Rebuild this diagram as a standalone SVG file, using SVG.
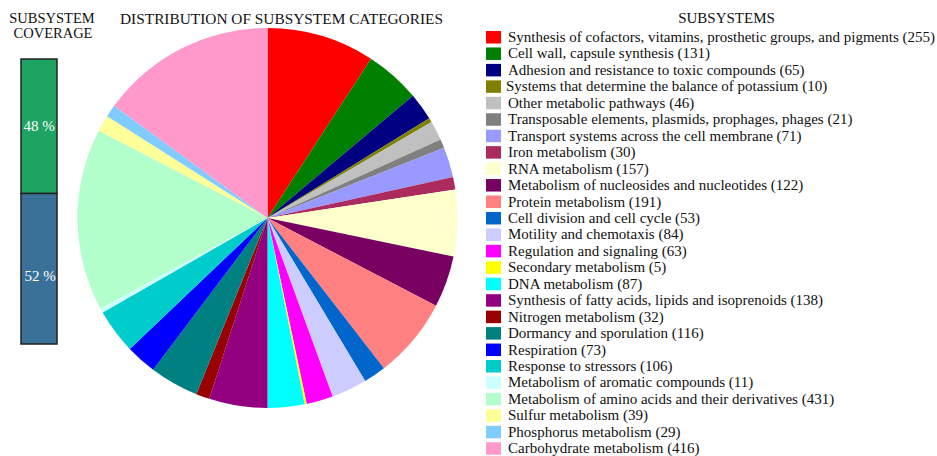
<svg xmlns="http://www.w3.org/2000/svg" width="937" height="456" viewBox="0 0 937 456">
<style>
text{font-family:"Liberation Serif","Times New Roman",serif;fill:#111;}
.t{font-size:15px;}
.ct{font-size:14.5px;text-anchor:middle;}
.lg{font-size:15px;}
.pc{font-size:15px;fill:#fff;text-anchor:middle;}
.bar{stroke:#222;stroke-width:1.5;}
</style>
<rect width="937" height="456" fill="#fff"/>
<g id="coverage">
<text class="ct" x="52" y="23">SUBSYSTEM</text>
<text class="ct" x="53" y="38">COVERAGE</text>
<rect class="bar" x="21" y="59" width="36" height="134.5" fill="#1ea462"/>
<rect class="bar" x="21" y="193.5" width="36" height="150.5" fill="#3a7199"/>
<text class="pc" x="39" y="131">48 %</text>
<text class="pc" x="40" y="281">52 %</text>
</g>
<g id="pie">
<text class="t" x="281.5" y="24" text-anchor="middle" textLength="323" lengthAdjust="spacingAndGlyphs">DISTRIBUTION OF SUBSYSTEM CATEGORIES</text>
<path fill="#ff0000" d="M267.5 218L267.5 28A190 190 0 0 1 370.97 58.65Z"/>
<path fill="#008000" d="M267.5 218L370.97 58.65A190 190 0 0 1 412.94 95.74Z"/>
<path fill="#000080" d="M267.5 218L412.94 95.74A190 190 0 0 1 429.26 118.33Z"/>
<path fill="#808000" d="M267.5 218L429.26 118.33A190 190 0 0 1 431.47 122.01Z"/>
<path fill="#c0c0c0" d="M267.5 218L431.47 122.01A190 190 0 0 1 440.54 139.53Z"/>
<path fill="#808080" d="M267.5 218L440.54 139.53A190 190 0 0 1 444.07 147.82Z"/>
<path fill="#9999ff" d="M267.5 218L444.07 147.82A190 190 0 0 1 453.01 176.91Z"/>
<path fill="#ac2b5f" d="M267.5 218L453.01 176.91A190 190 0 0 1 455.37 189.57Z"/>
<path fill="#ffffcc" d="M267.5 218L455.37 189.57A190 190 0 0 1 453.55 256.57Z"/>
<path fill="#770060" d="M267.5 218L453.55 256.57A190 190 0 0 1 436.04 305.72Z"/>
<path fill="#ff8080" d="M267.5 218L436.04 305.72A190 190 0 0 1 383.92 368.16Z"/>
<path fill="#0066cc" d="M267.5 218L383.92 368.16A190 190 0 0 1 365.15 380.99Z"/>
<path fill="#ccccff" d="M267.5 218L365.15 380.99A190 190 0 0 1 332.66 396.47Z"/>
<path fill="#ff00ff" d="M267.5 218L332.66 396.47A190 190 0 0 1 306.70 403.91Z"/>
<path fill="#ffff00" d="M267.5 218L306.70 403.91A190 190 0 0 1 304.59 404.35Z"/>
<path fill="#00ffff" d="M267.5 218L304.59 404.35A190 190 0 0 1 267.5 408Z"/>
<path fill="#930080" d="M267.5 218L267.5 408A190 190 0 0 1 209.24 398.85Z"/>
<path fill="#990000" d="M267.5 218L209.24 398.85A190 190 0 0 1 196.33 394.17Z"/>
<path fill="#008080" d="M267.5 218L196.33 394.17A190 190 0 0 1 153.13 369.72Z"/>
<path fill="#0000ff" d="M267.5 218L153.13 369.72A190 190 0 0 1 129.78 348.89Z"/>
<path fill="#00cccc" d="M267.5 218L129.78 348.89A190 190 0 0 1 102.67 312.51Z"/>
<path fill="#ccffff" d="M267.5 218L102.67 312.51A190 190 0 0 1 100.37 308.38Z"/>
<path fill="#b3ffcc" d="M267.5 218L100.37 308.38A190 190 0 0 1 98.77 130.65Z"/>
<path fill="#ffff99" d="M267.5 218L98.77 130.65A190 190 0 0 1 107.11 116.15Z"/>
<path fill="#80ccff" d="M267.5 218L107.11 116.15A190 190 0 0 1 114.11 105.87Z"/>
<path fill="#ff99cc" d="M267.5 218L114.11 105.87A190 190 0 0 1 267.5 28Z"/>
</g>
<g id="legend">
<text class="t" x="726.5" y="23" text-anchor="middle">SUBSYSTEMS</text>
<rect x="486" y="31" width="15" height="12.5" fill="#ff0000"/><text class="lg" x="508" y="42">Synthesis of cofactors, vitamins, prosthetic groups, and pigments (255)</text>
<rect x="486" y="47.45" width="15" height="12.5" fill="#008000"/><text class="lg" x="508" y="58.45">Cell wall, capsule synthesis (131)</text>
<rect x="486" y="63.9" width="15" height="12.5" fill="#000080"/><text class="lg" x="508" y="74.9">Adhesion and resistance to toxic compounds (65)</text>
<rect x="486" y="80.35" width="15" height="12.5" fill="#808000"/><text class="lg" x="506" y="91.35">Systems that determine the balance of potassium (10)</text>
<rect x="486" y="96.8" width="15" height="12.5" fill="#c0c0c0"/><text class="lg" x="508" y="107.8">Other metabolic pathways (46)</text>
<rect x="486" y="113.25" width="15" height="12.5" fill="#808080"/><text class="lg" x="508" y="124.25">Transposable elements, plasmids, prophages, phages (21)</text>
<rect x="486" y="129.7" width="15" height="12.5" fill="#9999ff"/><text class="lg" x="508" y="140.7">Transport systems across the cell membrane (71)</text>
<rect x="486" y="146.15" width="15" height="12.5" fill="#ac2b5f"/><text class="lg" x="508" y="157.15">Iron metabolism (30)</text>
<rect x="486" y="162.6" width="15" height="12.5" fill="#ffffcc"/><text class="lg" x="508" y="173.6">RNA metabolism (157)</text>
<rect x="486" y="179.05" width="15" height="12.5" fill="#770060"/><text class="lg" x="508" y="190.05">Metabolism of nucleosides and nucleotides (122)</text>
<rect x="486" y="195.5" width="15" height="12.5" fill="#ff8080"/><text class="lg" x="508" y="206.5">Protein metabolism (191)</text>
<rect x="486" y="211.95" width="15" height="12.5" fill="#0066cc"/><text class="lg" x="508" y="222.95">Cell division and cell cycle (53)</text>
<rect x="486" y="228.4" width="15" height="12.5" fill="#ccccff"/><text class="lg" x="508" y="239.4">Motility and chemotaxis (84)</text>
<rect x="486" y="244.85" width="15" height="12.5" fill="#ff00ff"/><text class="lg" x="508" y="255.85">Regulation and signaling (63)</text>
<rect x="486" y="261.3" width="15" height="12.5" fill="#ffff00"/><text class="lg" x="508" y="272.3">Secondary metabolism (5)</text>
<rect x="486" y="277.75" width="15" height="12.5" fill="#00ffff"/><text class="lg" x="508" y="288.75">DNA metabolism (87)</text>
<rect x="486" y="294.2" width="15" height="12.5" fill="#930080"/><text class="lg" x="508" y="305.2">Synthesis of fatty acids, lipids and isoprenoids (138)</text>
<rect x="486" y="310.65" width="15" height="12.5" fill="#990000"/><text class="lg" x="508" y="321.65">Nitrogen metabolism (32)</text>
<rect x="486" y="327.1" width="15" height="12.5" fill="#008080"/><text class="lg" x="508" y="338.1">Dormancy and sporulation (116)</text>
<rect x="486" y="343.55" width="15" height="12.5" fill="#0000ff"/><text class="lg" x="508" y="354.55">Respiration (73)</text>
<rect x="486" y="360" width="15" height="12.5" fill="#00cccc"/><text class="lg" x="508" y="371">Response to stressors (106)</text>
<rect x="486" y="376.45" width="15" height="12.5" fill="#ccffff"/><text class="lg" x="508" y="387.45">Metabolism of aromatic compounds (11)</text>
<rect x="486" y="392.9" width="15" height="12.5" fill="#b3ffcc"/><text class="lg" x="508" y="403.9">Metabolism of amino acids and their derivatives (431)</text>
<rect x="486" y="409.35" width="15" height="12.5" fill="#ffff99"/><text class="lg" x="508" y="420.35">Sulfur metabolism (39)</text>
<rect x="486" y="425.8" width="15" height="12.5" fill="#80ccff"/><text class="lg" x="508" y="436.8">Phosphorus metabolism (29)</text>
<rect x="486" y="442.25" width="15" height="12.5" fill="#ff99cc"/><text class="lg" x="508" y="453.25">Carbohydrate metabolism (416)</text>
</g>
</svg>
